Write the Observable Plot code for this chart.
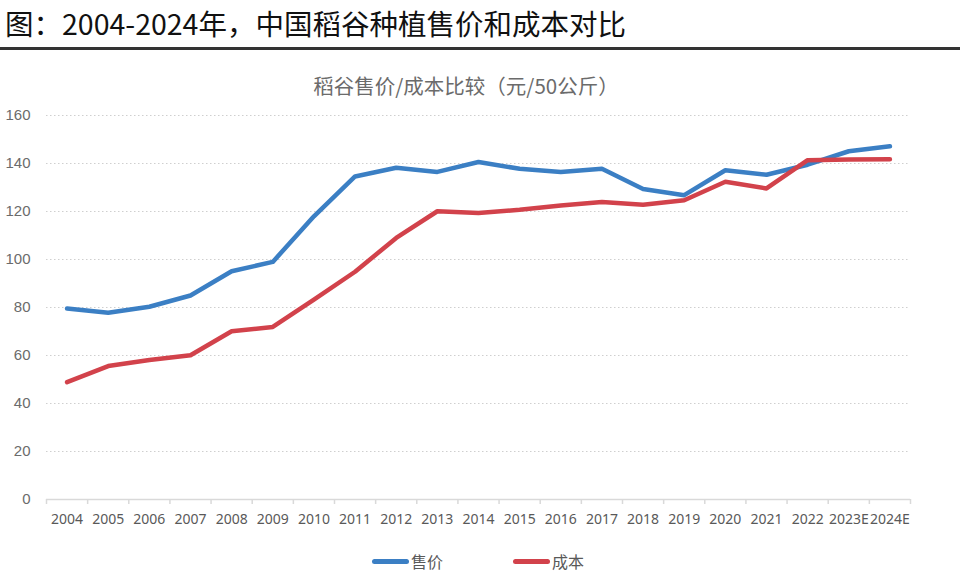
<!DOCTYPE html>
<html><head><meta charset="utf-8">
<script src="https://cdn.jsdelivr.net/npm/d3@7"></script>
<script src="https://cdn.jsdelivr.net/npm/@observablehq/plot@0.6"></script>
<style>
body{margin:0;width:960px;height:575px;position:relative;background:#fff;overflow:hidden;font-family:"Noto Sans CJK SC",sans-serif}
#title{position:absolute;left:5px;top:3px;font-size:28.5px;line-height:40px;color:#111;white-space:nowrap;font-weight:400}
#rule{position:absolute;left:0;top:47px;width:960px;height:2.5px;background:#333}
#sub{position:absolute;left:0;width:932px;top:70px;text-align:center;font-size:20.5px;line-height:30px;color:#6b6b6b}
#chart{position:absolute;left:0;top:100px}
.lg{position:absolute;top:549px;height:24px;display:flex;align-items:center;font-size:16px;color:#595959}
.lg span.sw{display:inline-block;width:37px;height:5px;border-radius:3px;margin-right:2px}
</style></head>
<body>
<div id="title">图：2004-2024年，中国稻谷种植售价和成本对比</div>
<div id="rule"></div>
<div id="sub">稻谷售价/成本比较（元/50公斤）</div>
<div id="chart"></div>
<div id="legend"></div>
<script>
const years = ["2004","2005","2006","2007","2008","2009","2010","2011","2012","2013","2014","2015","2016","2017","2018","2019","2020","2021","2022","2023E","2024E"];
const price = [79.6,77.8,80.3,85.0,95.1,99.0,118.0,134.6,138.2,136.5,140.6,137.8,136.5,137.8,129.4,126.8,137.2,135.3,139.5,145.1,147.2];
const cost  = [48.9,55.6,58.1,60.1,70.1,71.9,83.3,94.9,109.0,120.1,119.4,120.7,122.5,124.0,122.8,124.7,132.4,129.6,141.4,141.7,141.8];
const seriesNames = ["售价","成本"];
const seriesColors = ["#3b7fc4","#d2424b"];
const yTicks = [0,20,40,60,80,100,120,140,160];

const rows = years.flatMap((yr, i) => [
  {i, year: yr, v: price[i], s: seriesNames[0]},
  {i, year: yr, v: cost[i], s: seriesNames[1]}
]);

const chart = Plot.plot({
  width: 960, height: 439,
  marginLeft: 46, marginRight: 50, marginTop: 15, marginBottom: 40,
  x: {type: "linear", domain: [-0.5, years.length - 0.5], label: null},
  y: {domain: [0, 160], label: null},
  color: {domain: seriesNames, range: seriesColors},
  marks: [
    Plot.ruleY(yTicks.filter(d => d > 0), {stroke: "#cfcfcf", strokeDasharray: "1.5,2.5", strokeWidth: 1.2}),
    Plot.ruleY([0], {stroke: "#d9d9d9", strokeWidth: 1.5}),
    Plot.axisX(d3.range(-0.5, years.length), {tickSize: 5, tickFormat: () => "", stroke: "#d9d9d9", strokeWidth: 1.5, label: null}),
    Plot.axisX(d3.range(years.length), {tickSize: 0, tickPadding: 15, tickFormat: i => years[i], fontSize: 14, fontFamily: "'Liberation Sans Narrow','Noto Sans',sans-serif", fill: "#595959", label: null}),
    Plot.axisY(yTicks, {tickSize: 0, tickPadding: 16, fontSize: 15, fontFamily: "'Liberation Sans',sans-serif", fill: "#6b6b6b", label: null}),
    Plot.line(rows, {x: "i", y: "v", z: "s", stroke: "s", strokeWidth: 4.5, strokeLinejoin: "round", strokeLinecap: "round"})
  ]
});
document.getElementById("chart").appendChild(chart);

const legend = document.getElementById("legend");
const lgLeft = [372, 513];
seriesNames.forEach((n, k) => {
  const d = document.createElement("div");
  d.className = "lg";
  d.style.left = lgLeft[k] + "px";
  d.innerHTML = `<span class="sw" style="background:${seriesColors[k]}"></span>${n}`;
  legend.appendChild(d);
});
</script>
</body></html>
